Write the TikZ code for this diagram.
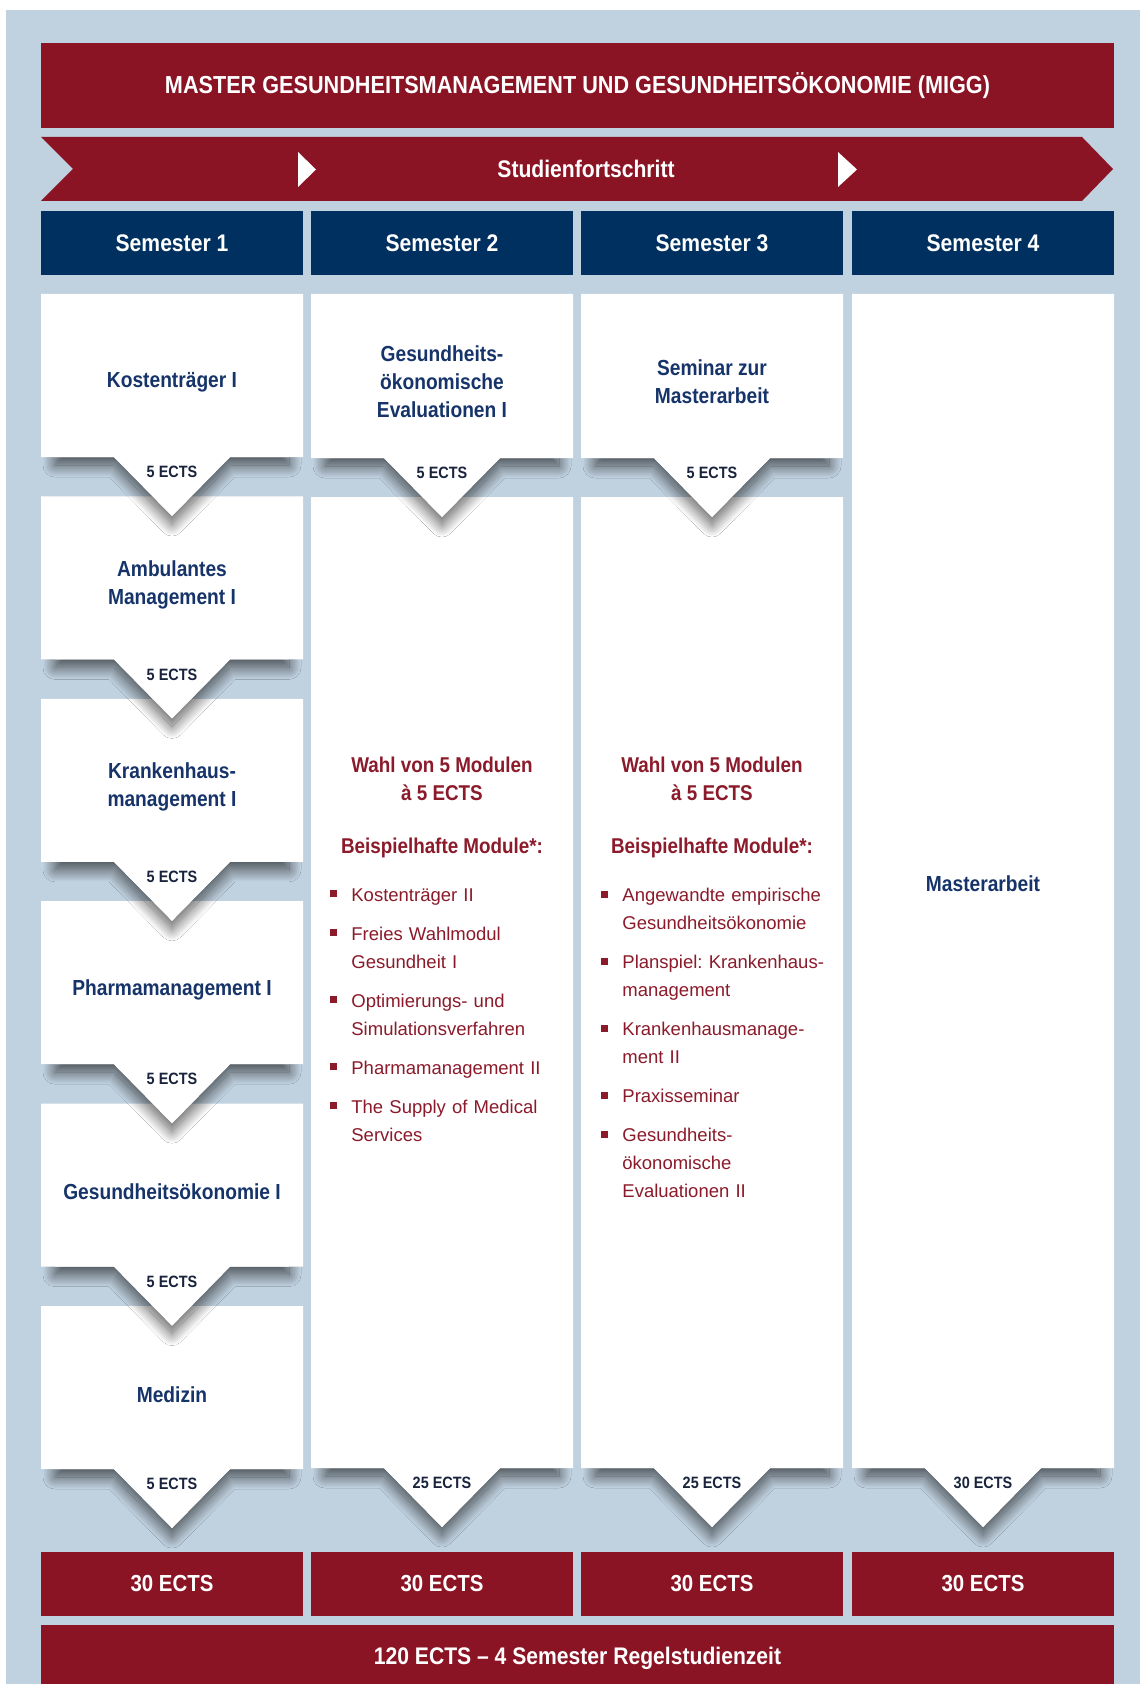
\documentclass[tikz,border=0pt]{standalone}
\usepackage{fontspec}
\setmainfont{Liberation Sans}
\newfontfamily\cnfont{Liberation Sans}[FakeStretch=0.88]
\usetikzlibrary{positioning,shadows.blur}

\definecolor{hgblau}{RGB}{192,209,223}
\definecolor{migrot}{RGB}{138,19,36}
\definecolor{semblau}{RGB}{0,48,96}
\definecolor{textblau}{RGB}{22,52,105}
\definecolor{textrot}{RGB}{139,26,42}
\definecolor{ectsblau}{RGB}{25,35,60}

\tikzset{
  schatten/.style={blur shadow={shadow xshift=0pt, shadow yshift=-4pt, shadow blur radius=6pt, shadow blur steps=30, shadow opacity=65}},
  ects/.style={font=\cnfont\bfseries\fontsize{8.2pt}{10pt}\selectfont, text=ectsblau, inner sep=0pt},
  modul/.style={font=\cnfont\bfseries\fontsize{10.9pt}{14pt}\selectfont, text=textblau, align=center, inner sep=0pt},
  titel/.style={fill=migrot, text=white, minimum width=536.5pt, minimum height=42.5pt, inner sep=0pt, font=\cnfont\bfseries\fontsize{12.3pt}{14pt}\selectfont},
  bandtext/.style={text=white, inner sep=0pt, font=\cnfont\bfseries\fontsize{12pt}{14pt}\selectfont},
  semhead/.style={fill=semblau, text=white, minimum width=131pt, minimum height=32pt, inner sep=0pt, font=\cnfont\bfseries\fontsize{12pt}{14pt}\selectfont},
  ectsfoot/.style={fill=migrot, text=white, minimum width=131pt, minimum height=32pt, inner sep=0pt, font=\cnfont\bfseries\fontsize{11.6pt}{14pt}\selectfont},
  rothead/.style={font=\cnfont\bfseries\fontsize{10.7pt}{14pt}\selectfont, text=textrot, align=center, inner sep=0pt},
  liste/.style={font=\fontsize{9.25pt}{14pt}\selectfont, text=textrot, text width=112pt, align=left, inner sep=0pt, anchor=north west},
}

\newcommand{\punkt}{\leavevmode\llap{\raisebox{2pt}{\rule{3.5pt}{3.5pt}}\hspace{7pt}}}

% #1 left, #2 top, #3 bottom, #4 ects text, #5 name
\newcommand{\ectskarte}[5]{%
  \fill[white, schatten] ({#1+14},{#3-30}) -- ({#1+248},{#3-30}) -- ({#1+248},#3) -- ({#1+189},#3) -- ({#1+131},{#3+59}) -- ({#1+73},#3) -- ({#1+14},#3) -- cycle;
  \fill[white] (#1,#2) -- ({#1+262},#2) -- ({#1+262},#3) -- ({#1+189},#3) -- ({#1+131},{#3+59}) -- ({#1+73},#3) -- (#1,#3) -- cycle;
  \node[ects] (#5) at ({#1+131},{#3+15}) {#4};
}

\begin{document}
\begin{tikzpicture}[x=0.5pt, y=-0.5pt]

            \def \cardh{163};
            \def \pitch{202.4};

            \useasboundingbox (0,0) rectangle (1140,1684);
            \fill[white] (0,0) rectangle (1140,1684);
            \fill[hgblau] (6,10) rectangle (1140,1684);

            % title and progress band
            \node[titel] (titel) at (577.5,85.5) {MASTER GESUNDHEITSMANAGEMENT UND GESUNDHEITSÖKONOMIE (MIGG)};
            \fill[migrot] (41,137) -- (1082,137) -- (1113,169) -- (1082,201) -- (41,201) -- (73,169) -- cycle;
            \fill[white] (298,152) -- (316,169.5) -- (298,187) -- cycle;
            \fill[white] (838,152) -- (857,169.5) -- (838,187) -- cycle;
            \node[bandtext] (fortschritt) at (586,169) {Studienfortschritt};

            % semester heads and sums
            \foreach \i/\x in {1/41,2/311,3/581,4/852} {
                \node[semhead] (sem\i) at ({\x+131},243) {Semester \i};
                \node[ectsfoot] (summe\i) at ({\x+131},1584) {30 ECTS};
            }
            \node[ectsfoot, minimum width=536.5pt, minimum height=33pt, font=\cnfont\bfseries\fontsize{12pt}{14pt}\selectfont] (gesamt) at (577.5,1658) {120 ECTS – 4 Semester Regelstudienzeit};

            % semester 1, drawn bottom up
            \foreach \k/\nm/\txt in {5/medizin/Medizin, 4/gesoek/Gesundheitsökonomie I, 3/pharma/Pharmamanagement I, 2/khm/{Krankenhaus-\\management I}, 1/amb/{Ambulantes\\Management I}, 0/kost/Kostenträger I} {
                \pgfmathsetmacro\ytop{294+\k*\pitch}
                \pgfmathsetmacro\ybot{\ytop+\cardh}
                \ectskarte{41}{\ytop}{\ybot}{5 ECTS}{e\nm}
                \node[modul] (\nm) at (172,{\ytop+\cardh/2+7}) {\txt};
            }

            % semester 2
            \ectskarte{311}{497}{1468}{25 ECTS}{ewahl2}
            \ectskarte{311}{294}{458}{5 ECTS}{egoe}
            \node[modul] (goe) at (442,382) {Gesundheits-\\ökonomische\\Evaluationen I};
            \node[rothead] (wahl2) at (442,779) {Wahl von 5 Modulen\\à 5 ECTS};
            \node[rothead] (bsp2) at (442,848) {Beispielhafte Module*:};
            \node[liste] (liste2) at (351,888) {\punkt Kostenträger II\\[5.5pt]
                \punkt Freies Wahlmodul\\Gesundheit I\\[5.5pt]
                \punkt Optimierungs- und\\Simulationsverfahren\\[5.5pt]
                \punkt Pharmamanagement II\\[5.5pt]
                \punkt The Supply of Medical\\Services};

            % semester 3
            \ectskarte{581}{497}{1468}{25 ECTS}{ewahl3}
            \ectskarte{581}{294}{458}{5 ECTS}{esem}
            \node[modul] (seminar) at (712,382) {Seminar zur\\Masterarbeit};
            \node[rothead] (wahl3) at (712,779) {Wahl von 5 Modulen\\à 5 ECTS};
            \node[rothead] (bsp3) at (712,848) {Beispielhafte Module*:};
            \node[liste] (liste3) at (622,888) {\punkt Angewandte empirische\\Gesundheitsökonomie\\[5.5pt]
                \punkt Planspiel:\ Krankenhaus-\\management\\[5.5pt]
                \punkt Krankenhausmanage-\\ment II\\[5.5pt]
                \punkt Praxisseminar\\[5.5pt]
                \punkt Gesundheits-\\ökonomische\\Evaluationen II};

            % semester 4
            \ectskarte{852}{294}{1468}{30 ECTS}{emaster}
            \node[modul] (masterarbeit) at (983,884) {Masterarbeit};

\end{tikzpicture}
\end{document}
